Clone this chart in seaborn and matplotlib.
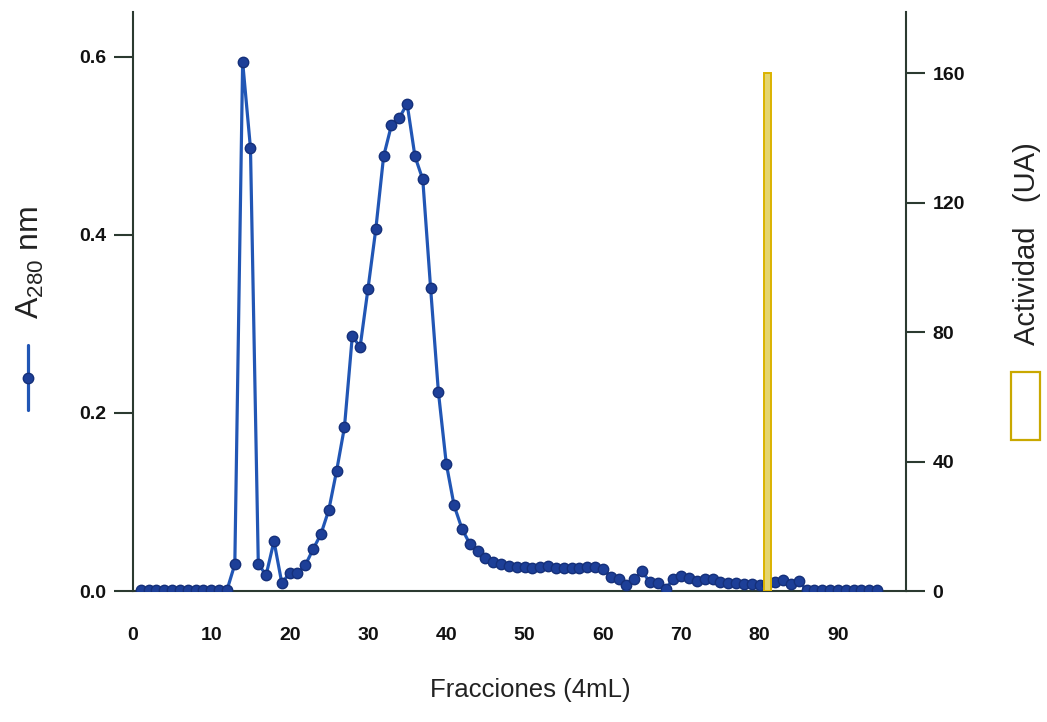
import numpy as np
import pandas as pd
import matplotlib
matplotlib.use("Agg")
import matplotlib.pyplot as plt
import seaborn as sns
from matplotlib.lines import Line2D
from matplotlib.patches import Rectangle

# ---- data ----
fracciones = list(range(1, 96))
a280 = [0.001] * 12 + [
    0.030, 0.594, 0.497, 0.030, 0.018, 0.056, 0.009, 0.020, 0.020, 0.029,   # 13-22
    0.047, 0.064, 0.091, 0.135, 0.184, 0.286, 0.274, 0.339, 0.406, 0.488,   # 23-32
    0.523, 0.531, 0.547, 0.488, 0.462, 0.340, 0.223, 0.143, 0.096, 0.070,   # 33-42
    0.053, 0.045, 0.037, 0.033, 0.030, 0.028, 0.027, 0.027, 0.026, 0.027,   # 43-52
    0.028, 0.026, 0.026, 0.026, 0.026, 0.027, 0.027, 0.025, 0.016, 0.014,   # 53-62
    0.007, 0.014, 0.022, 0.010, 0.009, 0.002, 0.014, 0.017, 0.015, 0.011,   # 63-72
    0.014, 0.014, 0.010, 0.009, 0.009, 0.008, 0.008, 0.007, 0.008, 0.010,   # 73-82
    0.012, 0.008, 0.011, 0.001, 0.001, 0.001, 0.001, 0.001, 0.001, 0.001,   # 83-92
    0.001, 0.001, 0.001]                                                    # 93-95
act_frac = [81]
actividad = [160]

x_ticks = [0, 10, 20, 30, 40, 50, 60, 70, 80, 90]
y_ticks = [0.0, 0.2, 0.4, 0.6]
y2_ticks = [0, 40, 80, 120, 160]

df = pd.DataFrame({"frac": fracciones, "a280": a280})
dfa = pd.DataFrame({"frac": act_frac, "act": actividad})

sns.set_style("white")
plt.rcParams["font.family"] = ["Liberation Sans", "DejaVu Sans"]
plt.rcParams["mathtext.fontset"] = "custom"
plt.rcParams["mathtext.rm"] = "Liberation Sans"

W, H = 1047, 722
fig = plt.figure(figsize=(W / 100, H / 100), dpi=100)
ax = fig.add_axes([133 / W, 1 - 591 / H, (906 - 133) / W, (591 - 12) / H])
ax2 = ax.twinx()

line_c = "#2156b5"
mark_c = "#1d3f98"
spine_c = "#2b3a30"

sns.lineplot(data=df, x="frac", y="a280", ax=ax, color=line_c, linewidth=2.3,
             marker="o", markersize=7.5, markerfacecolor=mark_c,
             markeredgecolor="#15307a", markeredgewidth=1.0, sort=False, zorder=3)

sns.barplot(data=dfa, x="frac", y="act", ax=ax2, native_scale=True, width=0.9,
            color="#f7e35c", edgecolor="#dbb300", linewidth=1.4, zorder=4)

ax.set_xlim(0, 98.7)
ax.set_ylim(0, 0.65)
ax2.set_ylim(0, 179)
ax2.set_xlim(0, 98.7)

ax.set_xticks(x_ticks)
ax.set_yticks(y_ticks)
ax.set_yticklabels([f"{v:.1f}" for v in y_ticks])
ax2.set_yticks(y2_ticks)
ax2.set_yticklabels([str(v) for v in y2_ticks])

for a in (ax, ax2):
    a.spines["top"].set_visible(False)
    for s in a.spines.values():
        s.set_color(spine_c)
        s.set_linewidth(1.5)
    a.tick_params(direction="out", length=14, width=1.5, color=spine_c,
                  labelsize=14, labelcolor="#111111", pad=5)
    a.set_xlabel("")
    a.set_ylabel("")
ax.spines["right"].set_visible(False)
ax2.spines["left"].set_visible(False)
ax2.spines["bottom"].set_visible(False)
for lab in ax.get_xticklabels() + ax.get_yticklabels() + ax2.get_yticklabels():
    lab.set_fontweight("bold")
ax.tick_params(axis="x", pad=12)
ax.patch.set_visible(False)

ax.set_xlabel("Fracciones (4mL)", fontsize=18.5, color="#222222")
ax.xaxis.set_label_coords((530 - 133) / 773, -(690 - 591) / 579)
ax.xaxis.label.set_va("center")

# left legend-style label
fig.text(30 / W, 1 - 262 / H, r"A$_{\mathregular{280}}$ nm", rotation=90, ha="center",
         va="center", fontsize=23, color="#222222")
fig.add_artist(Line2D([28 / W, 28 / W], [1 - 345 / H, 1 - 410 / H], color=line_c,
                      linewidth=2.3, transform=fig.transFigure))
fig.add_artist(Line2D([28 / W], [1 - 378 / H], color=line_c, marker="o", markersize=7.5,
                      markerfacecolor=mark_c, markeredgecolor="#15307a",
                      transform=fig.transFigure))

# right legend-style label
fig.text(1027 / W, 1 - 244 / H, "Actividad   (UA)", rotation=90, ha="center", va="center",
         fontsize=21, color="#222222")
fig.add_artist(Rectangle((1011 / W, 1 - 440 / H), 29 / W, 68 / H, facecolor="white",
                         edgecolor="#c9a800", linewidth=1.6, transform=fig.transFigure))

fig.savefig("out.png", dpi=100)
